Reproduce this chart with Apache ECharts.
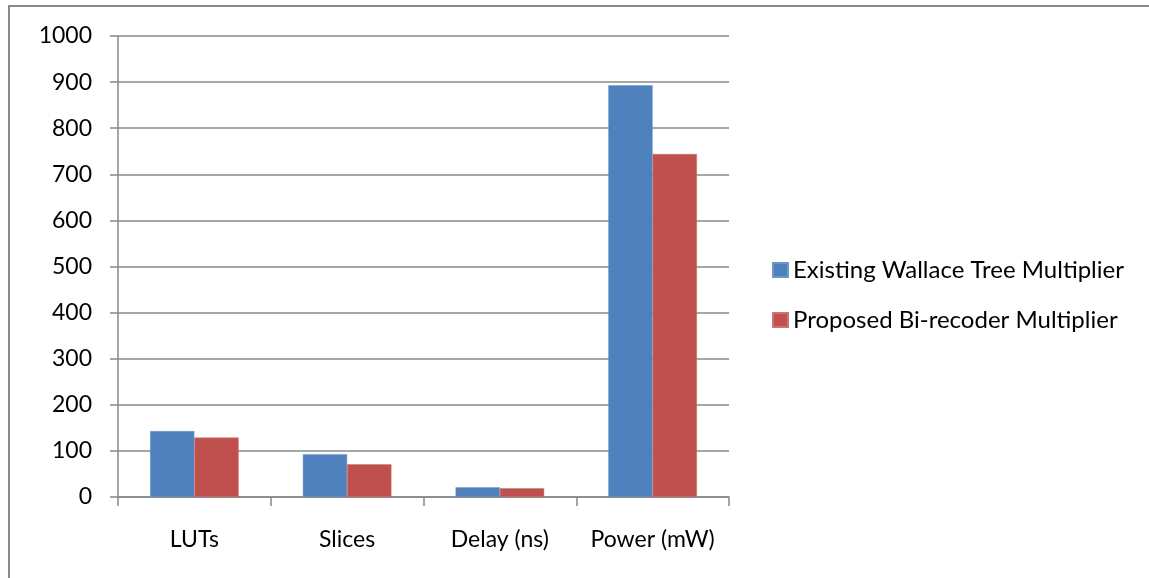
<!DOCTYPE html>
<html>
<head>
<meta charset="utf-8">
<script src="https://cdn.jsdelivr.net/npm/echarts@6/dist/echarts.min.js"></script>
<style>html,body{margin:0;padding:0;background:#fff;}#c{width:1149px;height:578px;}</style>
</head>
<body>
<div id="c"></div>
<script>
const categories = ['LUTs', 'Slices', 'Delay (ns)', 'Power (mW)'];
const existingWallace = [143, 93, 21, 893];
const proposedBiRecoder = [129, 71, 19, 744];
const yTicks = [0, 100, 200, 300, 400, 500, 600, 700, 800, 900, 1000];

const FONT = 'Lato';
const chart = echarts.init(document.getElementById('c'));
chart.setOption({
  animation: false,
  backgroundColor: '#fff',
  graphic: [{
    type: 'rect',
    shape: { x: 9, y: 6, width: 1300, height: 700 },
    style: { fill: 'none', stroke: '#8a8a8a', lineWidth: 2 },
    silent: true
  }],
  grid: { left: 118, right: 420, top: 36, bottom: 81, containLabel: false },
  legend: {
    orient: 'vertical',
    left: 772,
    top: 258,
    padding: 0,
    itemWidth: 15,
    itemHeight: 14,
    itemGap: 26,
    icon: 'rect',
    textStyle: { fontFamily: FONT, fontSize: 24, lineHeight: 24, color: '#000', padding: [0, 0, 0, 0] },
    data: ['Existing Wallace Tree Multiplier', 'Proposed Bi-recoder Multiplier']
  },
  xAxis: {
    type: 'category',
    data: categories,
    axisLine: { lineStyle: { color: '#888', width: 1.5 } },
    axisTick: { show: true, length: 9, alignWithLabel: false, lineStyle: { color: '#888', width: 1.5 } },
    axisLabel: { fontFamily: FONT, fontSize: 23, color: '#000', margin: 31, interval: 0 }
  },
  yAxis: {
    type: 'value',
    min: 0,
    max: 1000,
    interval: 100,
    axisLine: { show: true, lineStyle: { color: '#888', width: 1.5 } },
    axisTick: { show: true, length: 8, lineStyle: { color: '#888', width: 1.5 } },
    splitLine: { lineStyle: { color: '#888', width: 1.5 } },
    axisLabel: {
      fontFamily: FONT, fontSize: 23, color: '#000', margin: 26,
      formatter: v => yTicks.includes(v) ? String(v) : ''
    }
  },
  series: [
    {
      name: 'Existing Wallace Tree Multiplier',
      type: 'bar',
      data: existingWallace,
      barGap: '0%',
      barCategoryGap: '42%',
      itemStyle: { color: '#4F81BD', borderColor: '#6f97c9', borderWidth: 0.5 }
    },
    {
      name: 'Proposed Bi-recoder Multiplier',
      type: 'bar',
      data: proposedBiRecoder,
      barGap: '0%',
      barCategoryGap: '42%',
      itemStyle: { color: '#C0504D', borderColor: '#cc7270', borderWidth: 0.5 }
    }
  ]
});
</script>
</body>
</html>
